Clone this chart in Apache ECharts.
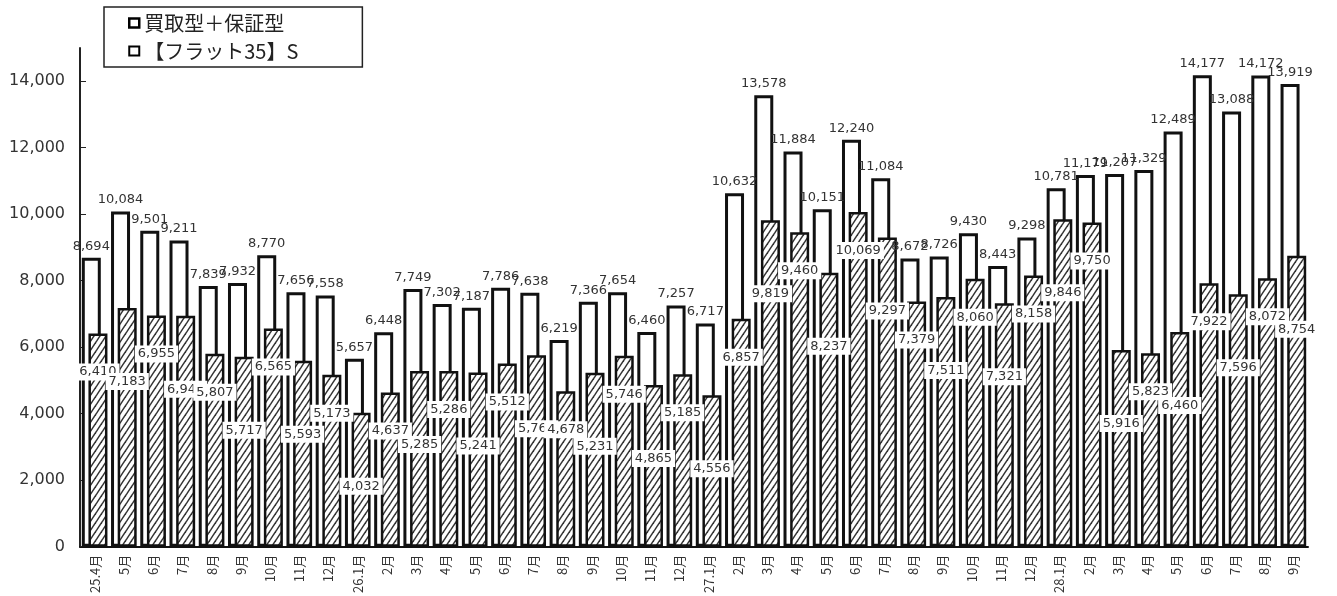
<!DOCTYPE html>
<html><head><meta charset="utf-8">
<script src="https://cdn.jsdelivr.net/npm/echarts@6/dist/echarts.min.js"></script>
<style>html,body{margin:0;padding:0;background:#fff}#c{width:1337px;height:596px}</style>
</head><body><div id="c"></div>
<script>
const categories = ['25.4月','5月','6月','7月','8月','9月','10月','11月','12月',
  '26.1月','2月','3月','4月','5月','6月','7月','8月','9月','10月','11月','12月',
  '27.1月','2月','3月','4月','5月','6月','7月','8月','9月','10月','11月','12月',
  '28.1月','2月','3月','4月','5月','6月','7月','8月','9月'];
const totalName = '買取型＋保証型';
const flatName = '【フラット35】S';
const totalValues = [8694,10084,9501,9211,7839,7932,8770,7656,7558,
  5657,6448,7749,7302,7187,7786,7638,6219,7366,7654,6460,7257,
  6717,10632,13578,11884,10151,12240,11084,8672,8726,9430,8443,9298,
  10781,11179,11207,11329,12489,14177,13088,14172,13919];
const flatValues = [6410,7183,6955,6946,5807,5717,6565,5593,5173,
  4032,4637,5285,5286,5241,5512,5760,4678,5231,5746,4865,5185,
  4556,6857,9819,9460,8237,10069,9297,7379,7511,8060,7321,8158,
  9846,9750,5916,5823,6460,7922,7596,8072,8754];
const yTicks = {min:0, max:15000, interval:2000};

function makeHatch(){
  const w=6,h=9;
  const c=document.createElement('canvas'); c.width=w; c.height=h;
  const g=c.getContext('2d');
  g.fillStyle='#fff'; g.fillRect(0,0,w,h);
  g.strokeStyle='#333'; g.lineWidth=1.5;
  [-w,0,w].forEach(dx=>{
    g.beginPath(); g.moveTo(dx-1,h+1.5); g.lineTo(dx+w+1,-1.5); g.stroke();
  });
  return c;
}
const fmt = v => Number(v).toLocaleString('en-US');
const font = 'DejaVu Sans';

const chart = echarts.init(document.getElementById('c'));
chart.setOption({
  backgroundColor:'#fff',
  animation:false,
  legend:{
    orient:'vertical', left:104, top:7,
    padding:[5,64,5,24], itemGap:6,
    borderColor:'#222', borderWidth:1.5,
    itemWidth:10, itemHeight:9, icon:'rect',
    textStyle:{fontSize:20, color:'#222', fontFamily:'Noto Sans CJK JP', lineHeight:22},
    data:[
      {name: totalName, itemStyle:{color:'#fff', borderColor:'#000', borderWidth:2.5}},
      {name: flatName, itemStyle:{color:'#fff', borderColor:'#000', borderWidth:2}}
    ]
  },
  grid:{left:80, right:29, top:48, bottom:47},
  xAxis:{
    type:'category', data:categories,
    axisLine:{lineStyle:{color:'#111', width:2}},
    axisTick:{show:false},
    axisLabel:{rotate:90, fontSize:13, color:'#333', fontFamily:'Noto Sans CJK JP', margin:8, interval:0}
  },
  yAxis:{
    type:'value', min:yTicks.min, max:yTicks.max, interval:yTicks.interval,
    axisLine:{show:true, lineStyle:{color:'#222', width:2}},
    axisTick:{show:true, inside:true, length:6, lineStyle:{color:'#222'}},
    splitLine:{show:false},
    axisLabel:{fontSize:16, color:'#333', fontFamily:font, margin:15, showMaxLabel:false, formatter:fmt}
  },
  series:[
    {
      name: totalName, type:'bar', data: totalValues,
      barWidth:19, barGap:'-65%',
      itemStyle:{color:'#fff', borderColor:'#111', borderWidth:3},
      label:{show:true, position:'top', distance:5, fontSize:13, color:'#333', fontFamily:font, formatter:p=>fmt(p.value)}
    },
    {
      name: flatName, type:'bar',
      data: flatValues.map((v,i)=>({value:v, label:{offset:[0, i%2 ? 60 : 25]}})),
      barWidth:19,
      itemStyle:{color:{image:makeHatch(), repeat:'repeat'}, borderColor:'#111', borderWidth:2.5},
      label:{show:true, position:'insideTop', fontSize:13, color:'#333', fontFamily:font,
        backgroundColor:'#fff', padding:[2,3], formatter:p=>fmt(p.value)}
    }
  ]
});
</script></body></html>
